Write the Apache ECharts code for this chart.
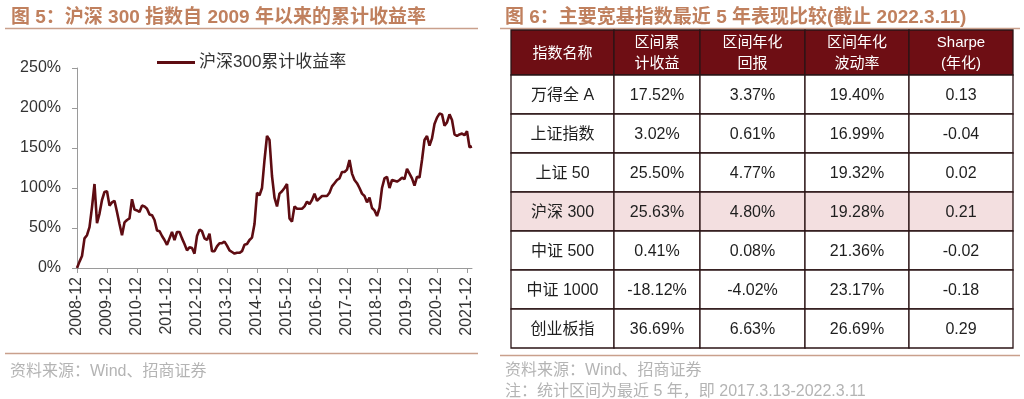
<!DOCTYPE html>
<html lang="zh">
<head>
<meta charset="UTF-8" />
<title>沪深300累计收益率 / 主要宽基指数表现比较</title>
<script src="https://cdn.jsdelivr.net/npm/echarts@6/dist/echarts.min.js"></script>
<style>
  html, body { margin: 0; padding: 0; background: #fff; }
  #chart { width: 1024px; height: 399px; }
</style>
</head>
<body>
<div id="chart"></div>
<script>
  // ---- 图5 数据：沪深300 月度累计收益率(%)，2008-12 起 ----
  const months = [];
  for (let i = 0; i < 159; i++) {
    const y = 2008 + Math.floor((11 + i) / 12);
    const m = (11 + i) % 12 + 1;
    months.push(y + '-' + String(m).padStart(2, '0'));
  }
  const hs300Cum = [
    0, 8, 15, 37, 41, 51, 76, 105, 56, 68,
    85, 95, 96, 78, 82, 84, 70, 55, 41, 57,
    60, 62, 86, 73, 72, 70, 78, 77, 74, 67,
    66, 60, 47, 46, 40, 35, 29, 37, 45, 35,
    45, 45, 37, 30, 22, 26, 25, 18, 40, 48,
    46, 37, 35, 43, 21, 21, 27, 31, 31, 33,
    28, 22, 20, 18, 19, 19, 21, 29, 30, 35,
    38, 55, 94, 91, 100, 135, 165, 160, 115, 88,
    77, 93, 96, 100, 105, 62, 58, 77, 74, 74,
    74, 77, 83, 80, 85, 93, 84, 87, 90, 90,
    90, 94, 102, 106, 110, 112, 120, 120, 123, 135,
    118, 110, 106, 100, 93, 90, 82, 88, 75, 72,
    65, 75, 100, 112, 114, 100, 110, 109, 108, 110,
    113, 111, 124, 118, 112, 103, 114, 113, 135, 160,
    165, 153, 162, 180, 188, 193, 192, 178, 182, 192,
    185, 167, 165, 167, 168, 166, 171, 151, 152
  ];

  // ---- 图6 数据：主要宽基指数最近5年表现 ----
  const tableHeaders = ['指数名称', '区间累\n计收益', '区间年化\n回报', '区间年化\n波动率', 'Sharpe\n(年化)'];
  const indexNames = ['万得全 A', '上证指数', '上证 50', '沪深 300', '中证 500', '中证 1000', '创业板指'];
  const cumReturn = [17.52, 3.02, 25.50, 25.63, 0.41, -18.12, 36.69];
  const annReturn = [3.37, 0.61, 4.77, 4.80, 0.08, -4.02, 6.63];
  const annVol = [19.40, 16.99, 19.32, 19.28, 21.36, 23.17, 26.69];
  const sharpe = [0.13, -0.04, 0.02, 0.21, -0.02, -0.18, 0.29];

  // 表格版式（列宽/行高比例）
  const colWidths = [103, 86, 105, 104, 104];
  const rowHeights = [45, 39, 39, 39, 39, 39, 39, 39];
  const highlightRow = 3;

  const FONT = '"Liberation Sans", Arial, "Noto Sans CJK SC", sans-serif';
  const titleColor = '#c0805e';
  const lineColor = '#5e0c12';

  function cellText(r, c) {
    if (r === 0) return tableHeaders[c];
    const i = r - 1;
    if (c === 0) return indexNames[i];
    if (c === 1) return cumReturn[i].toFixed(2) + '%';
    if (c === 2) return annReturn[i].toFixed(2) + '%';
    if (c === 3) return annVol[i].toFixed(2) + '%';
    return sharpe[i].toFixed(2);
  }

  // 单元格: [x0, x1, y0, y1, 行, 列]
  const cells = [];
  let y0 = 0;
  rowHeights.forEach((h, r) => {
    let x0 = 0;
    colWidths.forEach((w, c) => {
      cells.push([x0, x0 + w, y0, y0 + h, r, c]);
      x0 += w;
    });
    y0 += h;
  });
  const totalW = colWidths.reduce((a, b) => a + b, 0);
  const totalH = rowHeights.reduce((a, b) => a + b, 0);

  const chart = echarts.init(document.getElementById('chart'));
  chart.setOption({
    animation: false,
    backgroundColor: '#fff',
    title: [
      {
        text: '图 5：沪深 300 指数自 2009 年以来的累计收益率',
        left: 6, top: 3,
        textStyle: { fontFamily: FONT, fontSize: 19, fontWeight: 'bold', color: titleColor }
      },
      {
        text: '图 6：主要宽基指数最近 5 年表现比较(截止 2022.3.11)',
        left: 500, top: 3,
        textStyle: { fontFamily: FONT, fontSize: 19, fontWeight: 'bold', color: titleColor }
      },
      {
        text: '资料来源：Wind、招商证券',
        left: 5, top: 359,
        textStyle: { fontFamily: FONT, fontSize: 16, fontWeight: 'normal', color: '#b4b4b4' }
      },
      {
        text: '资料来源：Wind、招商证券',
        left: 500, top: 358,
        textStyle: { fontFamily: FONT, fontSize: 16, fontWeight: 'normal', color: '#b4b4b4' }
      },
      {
        text: '注：统计区间为最近 5 年，即 2017.3.13-2022.3.11',
        left: 500, top: 379,
        textStyle: { fontFamily: FONT, fontSize: 16, fontWeight: 'normal', color: '#b4b4b4' }
      }
    ],
    graphic: [
      { type: 'line', shape: { x1: 5, y1: 28.5, x2: 478, y2: 28.5 }, style: { stroke: '#c9a08c', lineWidth: 1.5 } },
      { type: 'line', shape: { x1: 5, y1: 353.5, x2: 478, y2: 353.5 }, style: { stroke: '#c9a08c', lineWidth: 1.5 } },
      { type: 'line', shape: { x1: 500, y1: 28.5, x2: 1020, y2: 28.5 }, style: { stroke: '#c9a08c', lineWidth: 1.5 } },
      { type: 'line', shape: { x1: 500, y1: 355.5, x2: 1020, y2: 355.5 }, style: { stroke: '#c9a08c', lineWidth: 1.5 } }
    ],
    legend: {
      data: [{ name: '沪深300累计收益率', icon: 'rect' }],
      left: 152, top: 49,
      itemWidth: 38, itemHeight: 3, itemGap: 10,
      textStyle: { fontFamily: FONT, fontSize: 17, color: '#333', padding: [0, 0, 0, -1] }
    },
    grid: [
      { left: 77, right: 552, top: 68, bottom: 131 },
      { left: 511, right: 11, top: 30, bottom: 51 }
    ],
    xAxis: [
      {
        type: 'category',
        gridIndex: 0,
        data: months,
        boundaryGap: false,
        axisLine: { lineStyle: { color: '#9a9a9a', width: 1 } },
        axisTick: { interval: 11, length: 5, lineStyle: { color: '#9a9a9a' } },
        axisLabel: {
          interval: 11, rotate: 90, margin: 9,
          fontFamily: FONT, fontSize: 16, color: '#333'
        },
        splitLine: { show: false }
      },
      { type: 'value', gridIndex: 1, min: 0, max: totalW, show: false }
    ],
    yAxis: [
      {
        type: 'value',
        gridIndex: 0,
        min: 0, max: 250, interval: 50,
        axisLine: { show: true, lineStyle: { color: '#9a9a9a', width: 1 } },
        axisTick: { show: true, length: 5, lineStyle: { color: '#9a9a9a' } },
        axisLabel: { formatter: '{value}%', margin: 16, fontFamily: FONT, fontSize: 16, color: '#333' },
        splitLine: { show: false }
      },
      { type: 'value', gridIndex: 1, min: 0, max: totalH, inverse: true, show: false }
    ],
    series: [
      {
        name: '沪深300累计收益率',
        type: 'line',
        xAxisIndex: 0, yAxisIndex: 0,
        data: hs300Cum,
        symbol: 'none',
        lineStyle: { color: lineColor, width: 2.6 },
        itemStyle: { color: lineColor }
      },
      {
        type: 'custom',
        xAxisIndex: 1, yAxisIndex: 1,
        data: cells,
        silent: true,
        renderItem: function (params, api) {
          const p0 = api.coord([api.value(0), api.value(2)]);
          const p1 = api.coord([api.value(1), api.value(3)]);
          const r = api.value(4), c = api.value(5);
          const isHead = r === 0;
          let fill = '#fff';
          if (isHead) fill = '#6e0e14';
          else if (r - 1 === highlightRow) fill = '#f3dfe0';
          return {
            type: 'group',
            children: [
              {
                type: 'rect',
                shape: { x: p0[0], y: p0[1], width: p1[0] - p0[0], height: p1[1] - p0[1] },
                style: { fill: fill, stroke: '#2b1416', lineWidth: 1.3 }
              },
              {
                type: 'text',
                style: {
                  x: (p0[0] + p1[0]) / 2,
                  y: (p0[1] + p1[1]) / 2 + 1,
                  text: cellText(r, c),
                  align: 'center',
                  verticalAlign: 'middle',
                  fontFamily: FONT,
                  fontSize: isHead ? 15 : 16,
                  lineHeight: 21,
                  fill: isHead ? '#fff' : '#1e1e1e'
                }
              }
            ]
          };
        }
      }
    ]
  });
</script>
</body>
</html>
